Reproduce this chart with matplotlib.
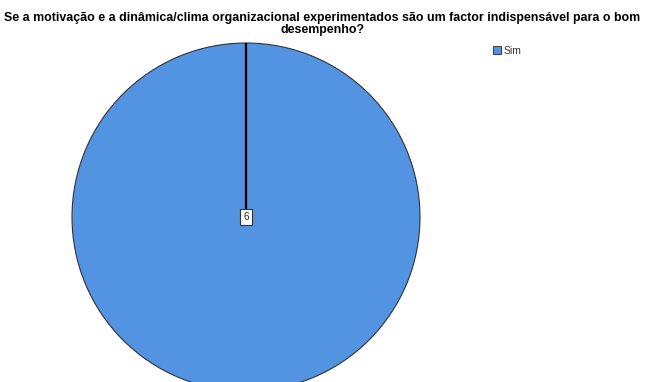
import matplotlib
matplotlib.use("Agg")
import matplotlib.pyplot as plt
from matplotlib.patches import Rectangle

plt.rcParams['font.family'] = ['Liberation Sans', 'DejaVu Sans']

categories = ["Sim"]
counts = [6]
title = ("Se a motivação e a dinâmica/clima organizacional experimentados são um factor indispensável para o bom\n"
         "desempenho?")
pie_color = "#5294e2"

W, H = 645, 382
fig = plt.figure(figsize=(W / 100, H / 100), dpi=100)
ax = fig.add_axes([0, 0, 1, 1])

# pie in pixel coordinates
cx, cy, r = 246, 217, 174
wedges, _ = ax.pie(counts, colors=[pie_color], startangle=90, counterclock=False,
                   center=(cx, cy), radius=r,
                   wedgeprops=dict(edgecolor="#333333", linewidth=0.8))
ax.set_xlim(0, W)
ax.set_ylim(H, 0)
ax.set_aspect("equal")
ax.axis("off")

# slice boundary from centre to top
ax.plot([cx, cx], [cy, cy - r], color="black", linewidth=1.6, solid_capstyle="butt")

# value label
ax.text(cx, cy, str(counts[0]), ha="center", va="center", fontsize=7.2, color="#222222",
        bbox=dict(boxstyle="square,pad=0.3", facecolor="white", edgecolor="#333333", linewidth=0.8))

# title
fig.text(0.5, 1 - 24 / H, title, ha="center", va="center", fontsize=8.9, fontweight="bold",
         linespacing=1.08)

# legend
ax.add_patch(Rectangle((493, 46), 8, 8, facecolor=pie_color, edgecolor="#444444", linewidth=0.8))
ax.text(504, 50.5, categories[0], ha="left", va="center", fontsize=7.5, color="#333333")

fig.savefig("out.png", dpi=100)
